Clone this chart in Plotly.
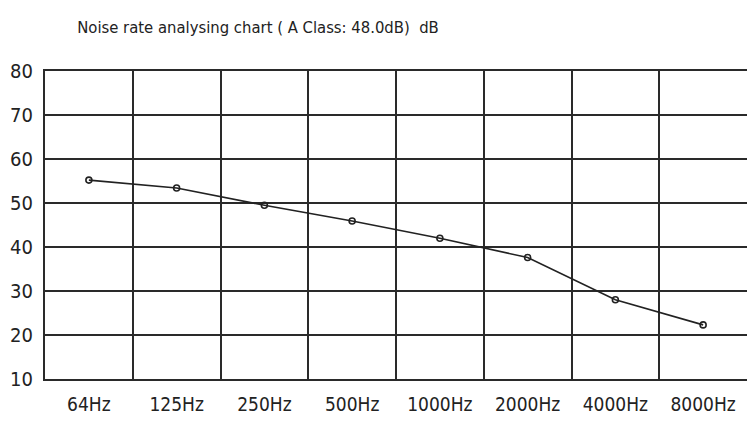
import plotly.graph_objects as go

categories = ["64Hz", "125Hz", "250Hz", "500Hz", "1000Hz", "2000Hz", "4000Hz", "8000Hz"]
noise_db = [55.2, 53.4, 49.5, 45.9, 42.0, 37.6, 28.0, 22.3]
y_ticks = [10, 20, 30, 40, 50, 60, 70, 80]
title_text = "Noise rate analysing chart ( A Class: 48.0dB)  dB"

FONT = "DejaVu Sans Condensed, Liberation Sans Narrow, sans-serif"

fig = go.Figure()
fig.add_trace(go.Scatter(
    x=categories, y=noise_db, mode="lines+markers",
    line=dict(color="#222222", width=1.6),
    marker=dict(symbol="circle-open", size=6, color="#222222", line=dict(width=1.6)),
    showlegend=False,
))

fig.update_layout(
    width=755, height=421,
    margin=dict(l=37, r=16, t=63, b=50),
    paper_bgcolor="white", plot_bgcolor="white",
    font=dict(family=FONT, color="#222222", size=19),
    title=dict(text=title_text, x=250 / 755, xanchor="center", y=1 - 19 / 421, yanchor="middle",
               font=dict(family=FONT, size=16.5, color="#222222")),
    xaxis=dict(type="category", range=[-0.5, 7.5], tickson="boundaries", automargin=False,
               showgrid=True, gridcolor="#2a2a2a", gridwidth=2,
               showline=True, linecolor="#2a2a2a", linewidth=2, mirror=True,
               ticks="", tickfont=dict(size=19), zeroline=False, ticklabelstandoff=7),
    yaxis=dict(range=[10, 80], tickvals=y_ticks, showgrid=True, gridcolor="#2a2a2a", gridwidth=2,
               showline=True, linecolor="#2a2a2a", linewidth=2, mirror=True, automargin=False,
               ticks="", tickfont=dict(size=20), zeroline=False, ticklabelstandoff=6),
)

fig.write_html("out.html")
